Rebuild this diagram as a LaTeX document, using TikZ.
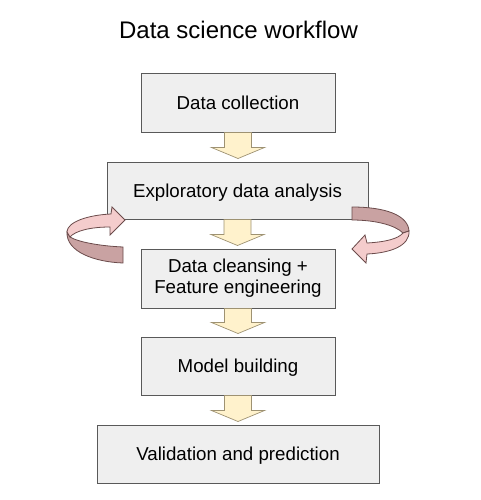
\documentclass[tikz,border=0pt]{standalone}
\usepackage{fontspec}
\setmainfont{Liberation Sans}
\usetikzlibrary{calc}
\definecolor{boxfill}{HTML}{EFEFEF}
\definecolor{boxline}{HTML}{595959}
\definecolor{arrfill}{HTML}{FFF2CC}
\definecolor{arrline}{HTML}{9E9272}
\definecolor{pinkface}{HTML}{F4CCCC}
\definecolor{pinkdark}{HTML}{C9A2A2}
\definecolor{pinkline}{HTML}{6B4B4B}
\tikzset{
  stagebox/.style={draw=boxline, fill=boxfill, line width=1pt, rectangle,
    inner sep=0pt, font=\fontsize{18.7}{21}\selectfont},
  oneline/.style={text height=13.4pt, text depth=0pt},
  blockarrow/.style={draw=arrline, fill=arrfill, line width=0.7pt, line join=miter},
  loopface/.style={draw=pinkline, fill=pinkface, line width=0.8pt, line join=miter},
  loopback/.style={draw=pinkline, fill=pinkdark, line width=0.8pt, line join=miter},
}
\newcommand\blockdown[2]{%
  \draw[blockarrow] let \p1=(#1.south), \p2=(#2.north) in
    (\x1-13.5pt,\y1) -- (\x1-13.5pt,\y2+14pt) -- (\x1-26.5pt,\y2+14pt)
    -- (\x1,\y2+3pt) -- (\x1+26.5pt,\y2+14pt) -- (\x1+13.5pt,\y2+14pt)
    -- (\x1+13.5pt,\y1) -- cycle;}
\begin{document}
\begin{tikzpicture}[x=1pt,y=-1pt]
\useasboundingbox (0,0) rectangle (481,500);
\node[font=\fontsize{24}{27}\selectfont, anchor=base] (title) at (238.5,39) {Data science workflow};
\node[stagebox, oneline, minimum width=194pt, minimum height=58pt] (dc) at (238,103) {Data collection};
\node[stagebox, oneline, minimum width=261pt, minimum height=57pt] (eda) at (237.5,190.5) {Exploratory data analysis};
\node[stagebox, align=center, minimum width=194pt, minimum height=59pt] (clean) at (238,278.5) {Data cleansing +\\Feature engineering};
\node[stagebox, oneline, minimum width=194pt, minimum height=58pt] (model) at (238,366) {Model building};
\node[stagebox, oneline, minimum width=282pt, minimum height=58pt] (valid) at (238,454) {Validation and prediction};
\blockdown{dc}{eda}
\blockdown{eda}{clean}
\blockdown{clean}{model}
\blockdown{model}{valid}
% left loop arrow
\draw[loopback] (123,247) .. controls (100,246) and (78,242) .. (70,237) -- (67,232)
  .. controls (66,252) and (95,262) .. (123,263) -- cycle;
\draw[loopface] (67,232) .. controls (67,222) and (88,215) .. (111,214) -- (112,207)
  -- (125,220) -- (110,235) -- (110,227) .. controls (90,227) and (75,231) .. (70,237) -- cycle;
% right loop arrow
\draw[loopback] (352,207) .. controls (385,207) and (408,215) .. (409,231) -- (403,233)
  .. controls (395,225) and (375,220) .. (352,220) -- cycle;
\draw[loopface] (403,233) -- (409,231) .. controls (410,246) and (390,253) .. (367,254)
  -- (366,263) -- (352,249) -- (365,235) -- (367,243)
  .. controls (385,242) and (398,239) .. (403,233) -- cycle;
\end{tikzpicture}
\end{document}
